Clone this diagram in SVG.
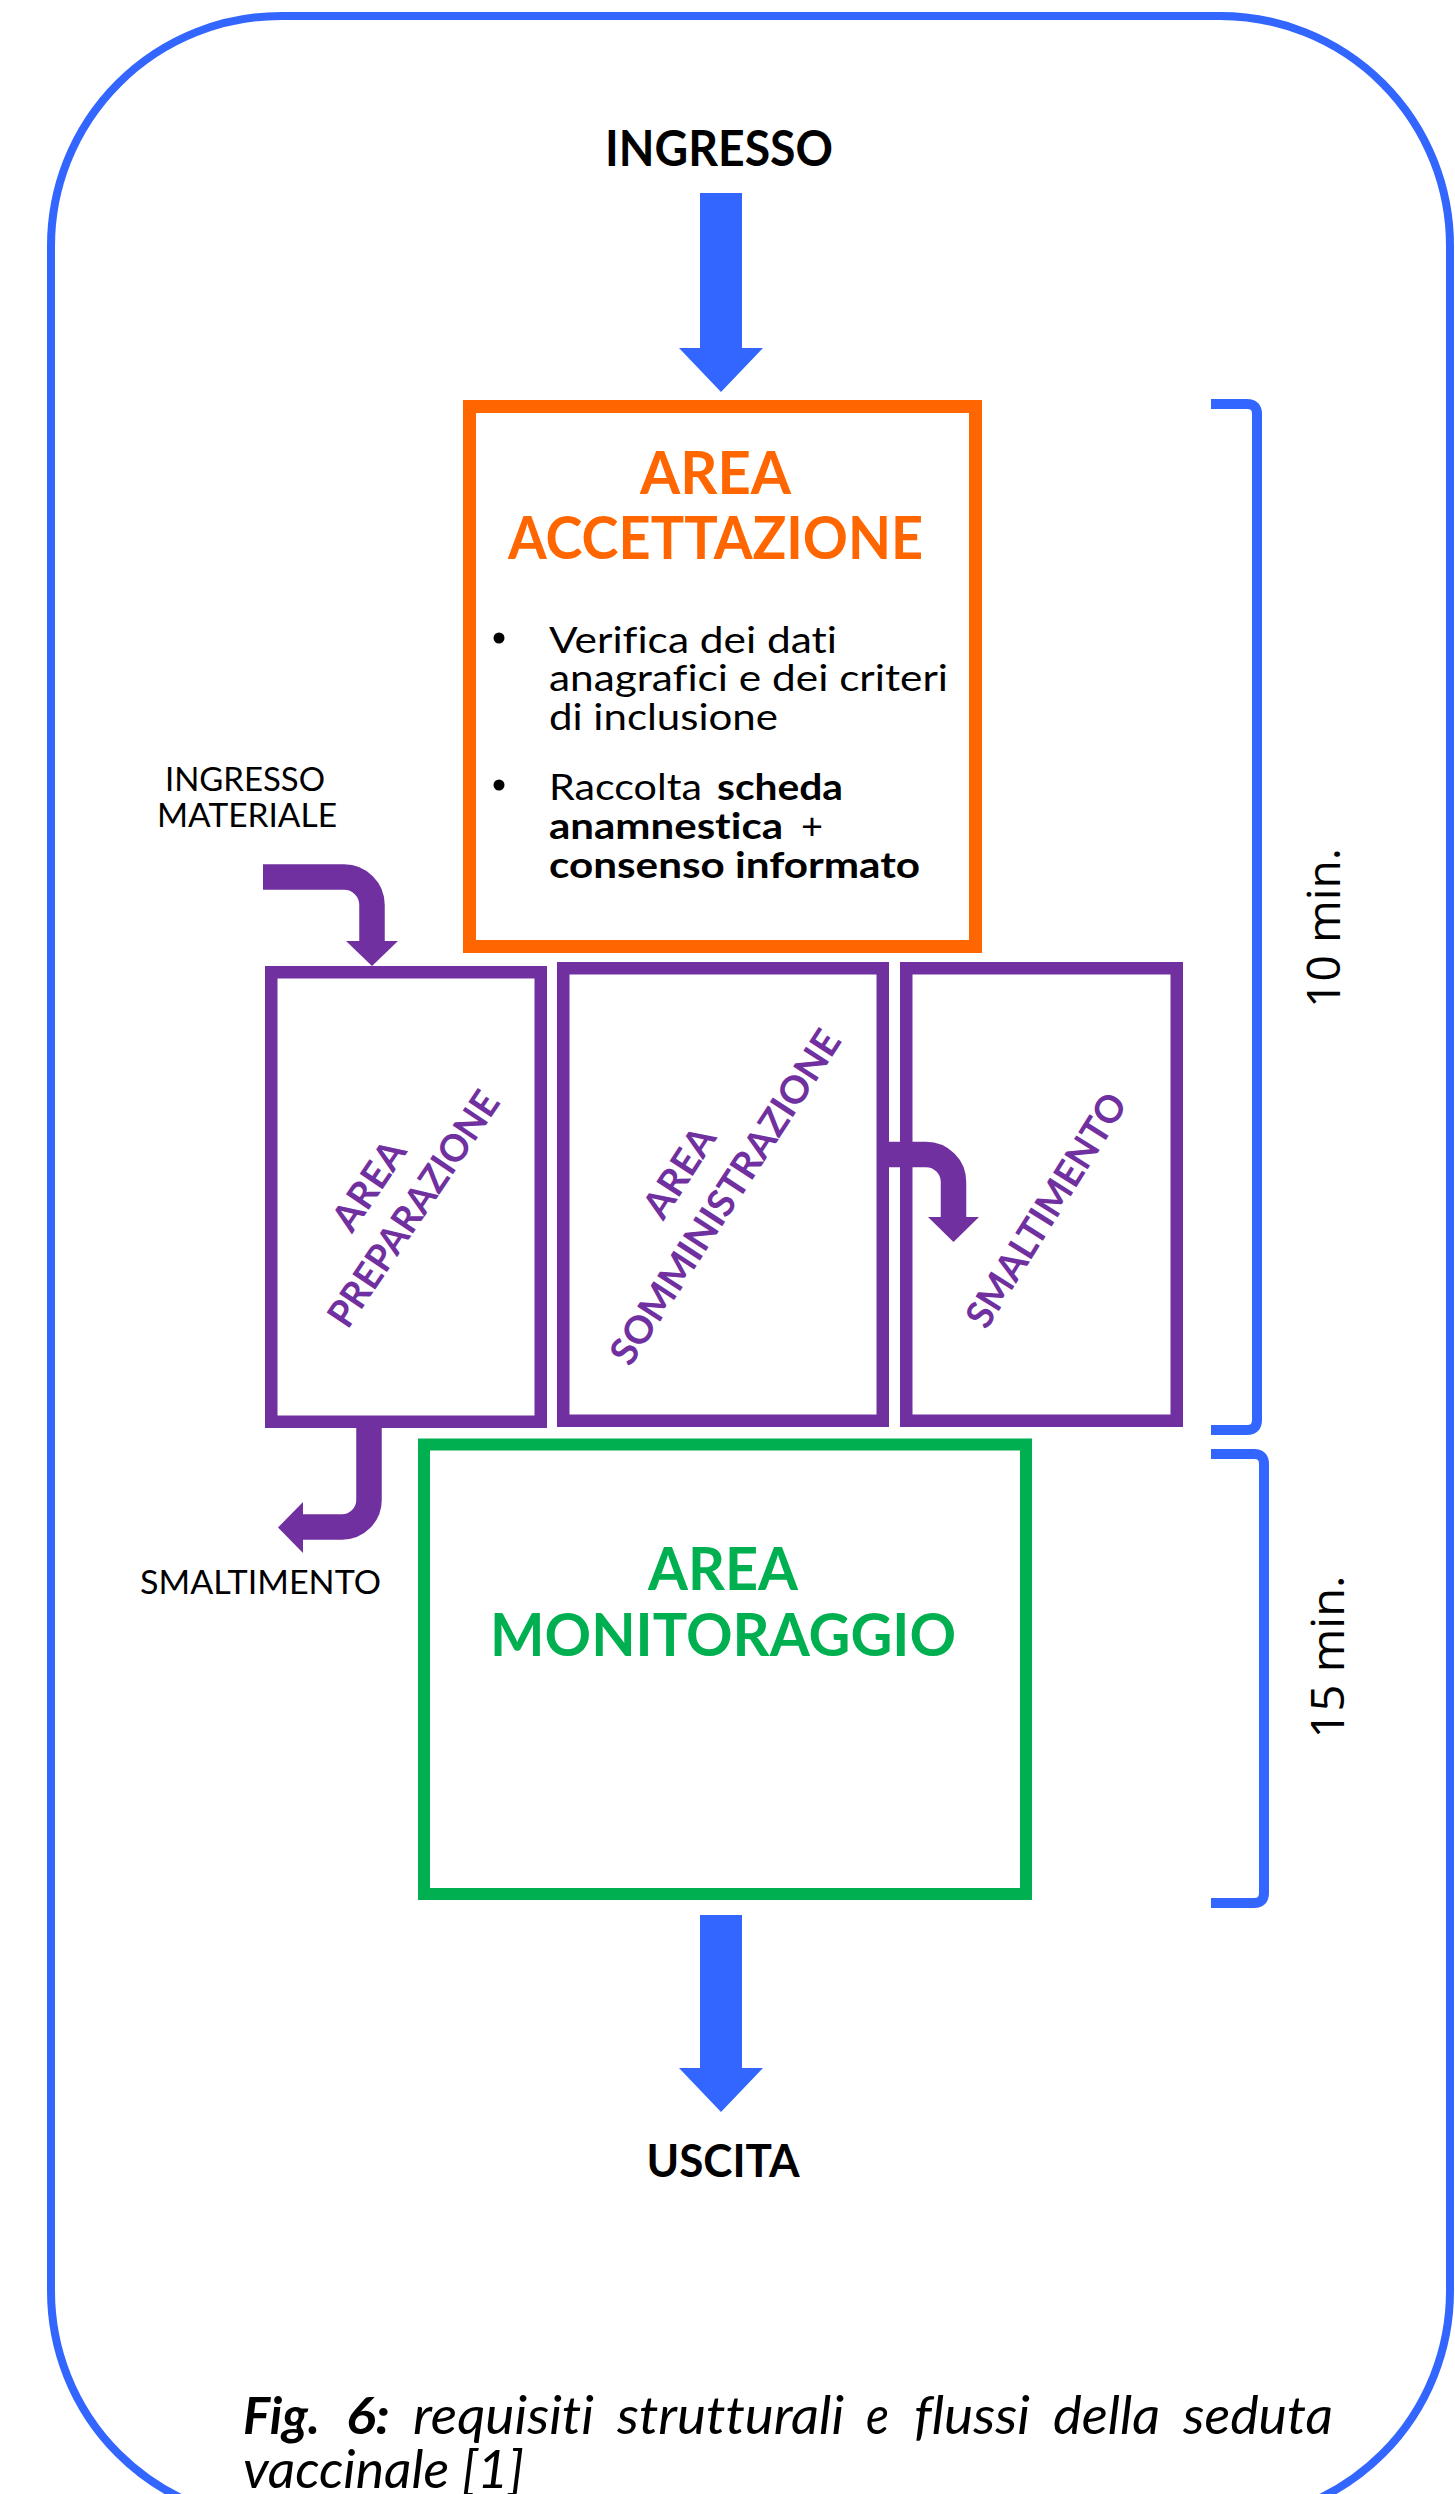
<svg xmlns="http://www.w3.org/2000/svg" width="1455" height="2494" viewBox="0 0 1455 2494">
  <style>
    text { font-family: Lato, "Liberation Sans", sans-serif; font-variant-ligatures: none; }
    .b { font-weight: 700; }
    .i { font-style: italic; }
    .blk { fill: #000000; }
    .org { fill: #FF6600; }
    .grn { fill: #00B050; }
    .pur { fill: #7030A0; }
    .box { fill: none; }
    .pbox { fill: none; stroke: #7030A0; stroke-width: 12.5; }
    .parr { fill: none; stroke: #7030A0; stroke-width: 25.5; }
    .bracket { fill: none; stroke: #3366FF; stroke-width: 10; }
    .min { font-family: "Open Sans", "Liberation Sans", sans-serif; font-size: 46px; fill: #000000; }
    .cap { font-size: 52px; font-style: italic; fill: #000000; }
  </style>

  <rect id="frame" x="51" y="16" width="1399" height="2505" rx="230" ry="230" fill="#FFFFFF" stroke="#3366FF" stroke-width="8"/>

  <g id="ingresso">
    <text class="b blk" x="719" y="166" font-size="49" text-anchor="middle" textLength="228" lengthAdjust="spacingAndGlyphs">INGRESSO</text>
  </g>

  <g id="area-accettazione">
    <rect class="box" x="469.5" y="406.5" width="506" height="540" stroke="#FF6600" stroke-width="13"/>
    <text class="b org" x="715.5" y="494" font-size="60" text-anchor="middle" textLength="151" lengthAdjust="spacingAndGlyphs">AREA</text>
    <text class="b org" x="715.5" y="559" font-size="60" text-anchor="middle" textLength="415" lengthAdjust="spacingAndGlyphs">ACCETTAZIONE</text>
    <circle cx="499" cy="638" r="5.5" fill="#000000"/>
    <text class="blk" x="549" y="653" font-size="36" textLength="288" lengthAdjust="spacingAndGlyphs">Verifica dei dati</text>
    <text class="blk" x="549" y="691" font-size="36" textLength="399" lengthAdjust="spacingAndGlyphs">anagrafici e dei criteri</text>
    <text class="blk" x="549" y="730" font-size="36" textLength="229" lengthAdjust="spacingAndGlyphs">di inclusione</text>
    <circle cx="499" cy="785" r="5.5" fill="#000000"/>
    <text class="blk" x="549" y="800" font-size="36" textLength="153" lengthAdjust="spacingAndGlyphs">Raccolta</text>
    <text class="b blk" x="717" y="800" font-size="36" textLength="126" lengthAdjust="spacingAndGlyphs">scheda</text>
    <text class="b blk" x="549" y="839" font-size="36" textLength="234" lengthAdjust="spacingAndGlyphs">anamnestica</text>
    <text class="blk" x="801" y="839" font-size="36" textLength="22" lengthAdjust="spacingAndGlyphs">+</text>
    <text class="b blk" x="549" y="878" font-size="36" textLength="371" lengthAdjust="spacingAndGlyphs">consenso informato</text>
  </g>

  <g id="ingresso-materiale">
    <text class="blk" x="245" y="791" font-size="32" text-anchor="middle" textLength="160" lengthAdjust="spacingAndGlyphs">INGRESSO</text>
    <text class="blk" x="247" y="827" font-size="32" text-anchor="middle" textLength="180" lengthAdjust="spacingAndGlyphs">MATERIALE</text>
  </g>

  <g id="area-preparazione">
    <rect class="pbox" x="271.25" y="972.25" width="269.5" height="449.5"/>
    <g transform="translate(391,1197) rotate(-56)">
      <text class="b pur" x="-2.75" y="-11.4" font-size="38" text-anchor="middle" textLength="100" lengthAdjust="spacingAndGlyphs">AREA</text>
      <text class="b pur" x="2.75" y="38.6" font-size="38" text-anchor="middle" textLength="275" lengthAdjust="spacingAndGlyphs">PREPARAZIONE</text>
    </g>
  </g>

  <g id="area-somministrazione">
    <rect class="pbox" x="563.25" y="968.25" width="319.5" height="452.5"/>
    <g transform="translate(702,1184.5) rotate(-57)">
      <text class="b pur" x="-2.25" y="-12.4" font-size="38" text-anchor="middle" textLength="100" lengthAdjust="spacingAndGlyphs">AREA</text>
      <text class="b pur" x="2.25" y="39.6" font-size="38" text-anchor="middle" textLength="390" lengthAdjust="spacingAndGlyphs">SOMMINISTRAZIONE</text>
    </g>
  </g>

  <g id="smaltimento-box">
    <rect class="pbox" x="906.25" y="968.25" width="270.5" height="452.5"/>
    <g transform="translate(1046,1210) rotate(-58)">
      <text class="b pur" x="0" y="13.6" font-size="38" text-anchor="middle" textLength="268" lengthAdjust="spacingAndGlyphs">SMALTIMENTO</text>
    </g>
  </g>

  <g id="smaltimento-label">
    <text class="blk" x="260.5" y="1594" font-size="32" text-anchor="middle" textLength="241" lengthAdjust="spacingAndGlyphs">SMALTIMENTO</text>
  </g>

  <g id="area-monitoraggio">
    <rect class="box" x="424" y="1444.5" width="602" height="449.5" stroke="#00B050" stroke-width="12"/>
    <text class="b grn" x="723" y="1590" font-size="59" text-anchor="middle" textLength="150" lengthAdjust="spacingAndGlyphs">AREA</text>
    <text class="b grn" x="723" y="1656" font-size="59" text-anchor="middle" textLength="466" lengthAdjust="spacingAndGlyphs">MONITORAGGIO</text>
  </g>

  <g id="uscita">
    <text class="b blk" x="723" y="2177" font-size="46" text-anchor="middle" textLength="153" lengthAdjust="spacingAndGlyphs">USCITA</text>
  </g>

  <g id="connectors">
    <polygon points="700,193 742,193 742,348 763,348 721,392 679,348 700,348" fill="#3366FF"/>
    <polygon points="700,1915 742,1915 742,2068 763,2068 721,2112 679,2068 700,2068" fill="#3366FF"/>
    <path class="parr" d="M263,877 H344 A28,28 0 0 1 372,905 V943"/>
    <polygon points="346,941 398,941 372,966" fill="#7030A0"/>
    <path class="parr" d="M882,1154.5 H926 A27.5,27.5 0 0 1 953.5,1182 V1219"/>
    <polygon points="928,1217 979,1217 953.5,1242" fill="#7030A0"/>
    <path class="parr" d="M369,1422 V1500 A27,27 0 0 1 342,1527 H301"/>
    <polygon points="303,1502 303,1553 278,1527.5" fill="#7030A0"/>
  </g>

  <g id="timing">
    <path class="bracket" d="M1211,404 H1247 Q1257,404 1257,414 V1420 Q1257,1430 1247,1430 H1211"/>
    <text class="min" transform="translate(1340,928) rotate(-90)" x="0" y="0" text-anchor="middle" textLength="160" lengthAdjust="spacingAndGlyphs">10 min.</text>
    <path class="bracket" d="M1211,1454 H1254 Q1264,1454 1264,1464 V1893 Q1264,1903 1254,1903 H1211"/>
    <text class="min" transform="translate(1344,1657) rotate(-90)" x="0" y="0" text-anchor="middle" textLength="163" lengthAdjust="spacingAndGlyphs">15 min.</text>
  </g>

  <g id="caption">
    <text class="cap b" x="243" y="2434" textLength="77" lengthAdjust="spacingAndGlyphs">Fig.</text>
    <text class="cap b" x="346" y="2434" textLength="44" lengthAdjust="spacingAndGlyphs">6:</text>
    <text class="cap" x="413" y="2434" textLength="181" lengthAdjust="spacingAndGlyphs">requisiti</text>
    <text class="cap" x="617" y="2434" textLength="227" lengthAdjust="spacingAndGlyphs">strutturali</text>
    <text class="cap" x="866" y="2434" textLength="23" lengthAdjust="spacingAndGlyphs">e</text>
    <text class="cap" x="914" y="2434" textLength="116" lengthAdjust="spacingAndGlyphs">flussi</text>
    <text class="cap" x="1053" y="2434" textLength="107" lengthAdjust="spacingAndGlyphs">della</text>
    <text class="cap" x="1183" y="2434" textLength="150" lengthAdjust="spacingAndGlyphs">seduta</text>
    <text class="cap" x="243" y="2488" textLength="281" lengthAdjust="spacingAndGlyphs">vaccinale [1]</text>
  </g>
</svg>
